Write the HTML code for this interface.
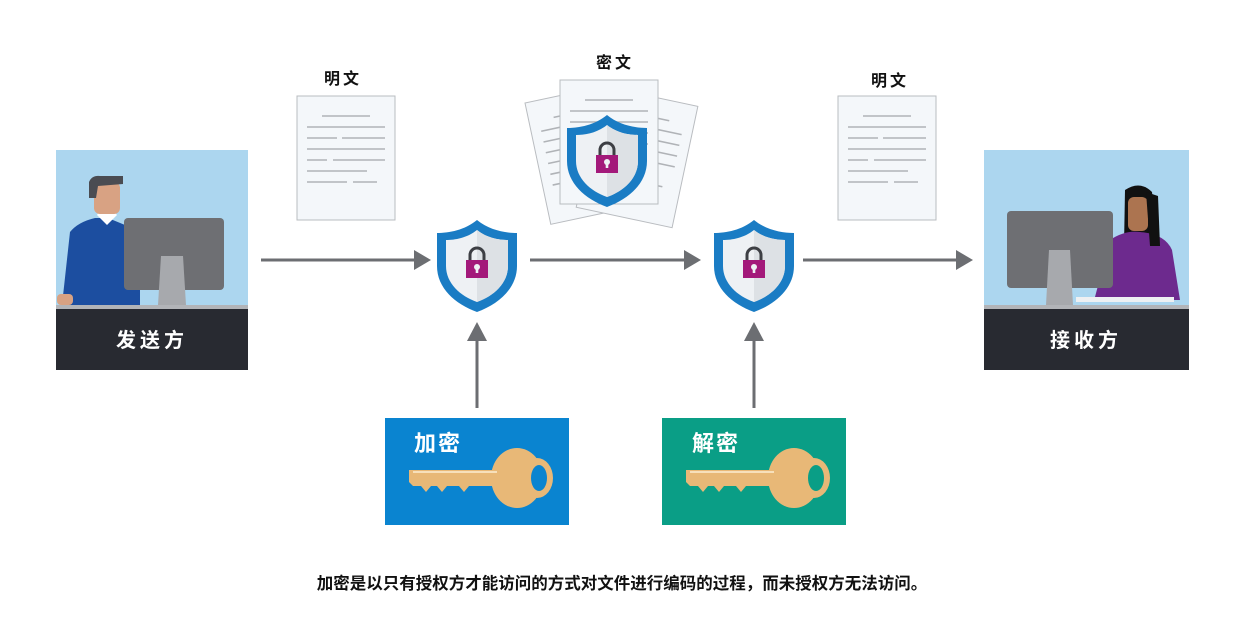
<!DOCTYPE html>
<html><head><meta charset="utf-8"><style>
body{margin:0;background:#fff;}
svg{display:block;font-family:"Liberation Sans","Noto Sans CJK SC",sans-serif;}
</style></head><body>
<svg width="1242" height="628" viewBox="0 0 1242 628" xmlns="http://www.w3.org/2000/svg">
<defs>
<g id="shield">
<path d="M0,-46 C12,-36 28,-33 40,-33 L40,0 C40,22 22,38 0,46 C-22,38 -40,22 -40,0 L-40,-33 C-28,-33 -12,-36 0,-46Z" fill="#1a7cc4"/>
<path d="M0,-36 C10,-28 22,-26 31,-26 L31,0 C31,17 17,30 0,36 C-17,30 -31,17 -31,0 L-31,-26 C-22,-26 -10,-28 0,-36Z" fill="#eef1f4"/>
<path d="M0,-36 C10,-28 22,-26 31,-26 L31,0 C31,17 17,30 0,36Z" fill="#dde1e5"/>
<path d="M-7,-6 L-7,-11 A7,7 0 0 1 7,-11 L7,-6" fill="none" stroke="#3d3f44" stroke-width="3"/>
<rect x="-11" y="-6" width="22" height="18" fill="#a3197a"/>
<circle cx="0" cy="1" r="3" fill="#eef1f4"/><rect x="-1.3" y="1" width="2.6" height="6" fill="#eef1f4"/>
</g>
<g id="doc">
<rect x="0" y="0" width="98" height="124" fill="#f4f7fa" stroke="#b9bcc0" stroke-width="1"/>
<g stroke="#b0b3b7" stroke-width="1.6">
<line x1="25" y1="20" x2="73" y2="20"/><line x1="10" y1="31" x2="88" y2="31"/>
<line x1="10" y1="42" x2="40" y2="42"/><line x1="45" y1="42" x2="88" y2="42"/>
<line x1="10" y1="53" x2="88" y2="53"/><line x1="10" y1="64" x2="30" y2="64"/><line x1="36" y1="64" x2="88" y2="64"/>
<line x1="10" y1="75" x2="70" y2="75"/><line x1="10" y1="86" x2="50" y2="86"/><line x1="56" y1="86" x2="80" y2="86"/>
</g>
</g>
<g id="key">
<ellipse cx="108" cy="0" rx="26" ry="30" fill="#e8b877"/>
<ellipse cx="128" cy="0" rx="16" ry="20" fill="#e8b877"/>
<ellipse cx="130" cy="0" rx="8" ry="13" fill="currentColor"/>
<path d="M0,-8 L90,-8 L90,8 L60,8 L55,14 L50,8 L38,8 L33,14 L28,8 L22,8 L17,14 L12,8 L4,8 L0,4Z" fill="#e8b877"/>
<line x1="4" y1="-6" x2="88" y2="-6" stroke="#f7e0bb" stroke-width="2"/>
</g>
</defs>

<rect x="56" y="150" width="192" height="155" fill="#acd6ef"/>
<path d="M62,305 L70,232 Q78,222 95,218 L108,218 L125,225 L140,245 L140,305Z" fill="#1c4ea0"/>
<path d="M97,215 L107,225 L117,215 L113,210 L100,210Z" fill="#fff"/>
<rect x="94" y="182" width="26" height="32" rx="6" fill="#d8a283"/>
<path d="M89,198 L89,182 Q92,175 100,176 L123,176 L123,184 L98,186 L96,198Z" fill="#4a4c52"/>
<rect x="57" y="294" width="16" height="11" rx="4" fill="#d8a283"/>
<rect x="124" y="218" width="100" height="72" rx="4" fill="#6e6f73"/>
<path d="M161,256 L183,256 L186,305 L158,305Z" fill="#a7a9ad"/>
<rect x="56" y="305" width="192" height="4" fill="#b2b4b8"/>
<rect x="56" y="309" width="192" height="61" fill="#282a31"/>
<text x="152" y="347" fill="#fff" font-size="20" font-weight="bold" text-anchor="middle" letter-spacing="4">发送方</text>

<rect x="984" y="150" width="205" height="155" fill="#acd6ef"/>
<path d="M1125,190 Q1140,180 1152,192 L1158,246 L1124,246Z" fill="#111"/>
<rect x="1128" y="197" width="20" height="34" rx="6" fill="#ac7450"/>
<path d="M1095,297 L1110,240 Q1125,230 1140,232 Q1165,234 1172,250 L1180,300 L1095,300Z" fill="#6d2a8e"/>
<path d="M1146,192 L1158,196 L1160,246 L1150,246Z" fill="#111"/>
<rect x="1076" y="297" width="98" height="5" fill="#eef0f2"/>
<rect x="1007" y="211" width="106" height="77" rx="4" fill="#6e6f73"/>
<path d="M1049,250 L1070,250 L1073,305 L1046,305Z" fill="#a7a9ad"/>
<rect x="984" y="305" width="205" height="4" fill="#b2b4b8"/>
<rect x="984" y="309" width="205" height="61" fill="#282a31"/>
<text x="1086" y="347" fill="#fff" font-size="20" font-weight="bold" text-anchor="middle" letter-spacing="4">接收方</text>

<text x="343" y="84" font-size="16" font-weight="bold" text-anchor="middle" letter-spacing="3" fill="#111">明文</text>
<use href="#doc" x="297" y="96"/>
<text x="890" y="86" font-size="16" font-weight="bold" text-anchor="middle" letter-spacing="3" fill="#111">明文</text>
<use href="#doc" x="838" y="96"/>
<text x="615" y="68" font-size="16" font-weight="bold" text-anchor="middle" letter-spacing="3" fill="#111">密文</text>
<g transform="translate(525,103) rotate(-12)"><use href="#doc"/></g>
<g transform="translate(602,86) rotate(12)"><use href="#doc"/></g>
<use href="#doc" x="560" y="80"/>
<use href="#shield" transform="translate(607,161)"/>

<use href="#shield" x="477" y="266"/>
<use href="#shield" x="754" y="266"/>

<g stroke="#6c6e72" stroke-width="3">
<line x1="261" y1="260" x2="416" y2="260"/>
<line x1="530" y1="260" x2="686" y2="260"/>
<line x1="803" y1="260" x2="958" y2="260"/>
<line x1="477" y1="408" x2="477" y2="338"/>
<line x1="754" y1="408" x2="754" y2="338"/>
</g>
<g fill="#6c6e72">
<path d="M414,250 L431,260 L414,270Z"/>
<path d="M684,250 L701,260 L684,270Z"/>
<path d="M956,250 L973,260 L956,270Z"/>
<path d="M467,341 L477,322 L487,341Z"/>
<path d="M744,341 L754,322 L764,341Z"/>
</g>

<rect x="385" y="418" width="184" height="107" fill="#0a84d0"/>
<text x="414" y="451" fill="#fff" font-size="22" font-weight="bold" letter-spacing="2">加密</text>
<use href="#key" x="409" y="478" style="color:#0a84d0"/>
<rect x="662" y="418" width="184" height="107" fill="#0a9e86"/>
<text x="692" y="451" fill="#fff" font-size="22" font-weight="bold" letter-spacing="2">解密</text>
<use href="#key" x="686" y="478" style="color:#0a9e86"/>

<text x="622" y="589" font-size="16.5" font-weight="bold" text-anchor="middle" fill="#111">加密是以只有授权方才能访问的方式对文件进行编码的过程，而未授权方无法访问。</text>
</svg>
</body></html>
